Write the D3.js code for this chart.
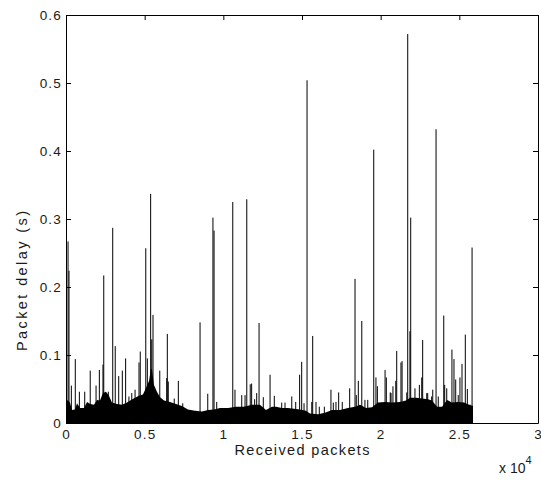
<!DOCTYPE html>
<html>
<head>
<meta charset="utf-8">
<script src="https://cdn.jsdelivr.net/npm/d3@7"></script>
<style>
  body { margin: 0; background: #fff; }
  text { font-family: "Liberation Sans", Arial, sans-serif; fill: #1a1a1a; }
</style>
</head>
<body>
<script>
// packet index / delay (s)
const spikePackets = [130, 190, 340, 590, 850, 1190, 1540, 1910, 2120, 2350, 2400, 2690, 2970, 3130, 3350, 3580, 3790, 4000,
  4180, 4390, 4640, 4720, 5070, 5170, 5380, 5450, 5530, 5960, 6400, 6440, 6500, 6880, 7140, 7420, 8520, 9010, 9340, 9410,
  9580, 10600, 10740, 11170, 11380, 11490, 11710, 11800, 11990, 12120, 12270, 12540, 12970, 13240, 13710, 13920, 14350,
  14600, 14850, 14980, 15130, 15320, 15620, 15680, 15890, 16100, 16420, 16840, 16990, 17160, 17330, 17560, 18030, 18370,
  18450, 18580, 18800, 19000, 19180, 19560, 19700, 19790, 20280, 20360, 20610, 20660, 20780, 20960, 21020, 21290, 21360,
  21660, 21720, 21860, 21910, 22180, 22460, 22610, 22670, 22930, 22990, 23240, 23310, 23520, 23660, 24010, 24070, 24200,
  24530, 24660, 24770, 24930, 25040, 25170, 25380, 25510, 25680, 25810];
const spikeDelays = [0.267, 0.224, 0.055, 0.094, 0.046, 0.046, 0.077, 0.055, 0.078, 0.086, 0.217, 0.046, 0.287, 0.113, 0.069, 0.077, 0.095, 0.039,
  0.044, 0.049, 0.089, 0.105, 0.257, 0.095, 0.337, 0.123, 0.159, 0.077, 0.066, 0.131, 0.061, 0.036, 0.062, 0.029, 0.148, 0.043, 0.302, 0.283,
  0.031, 0.325, 0.049, 0.041, 0.041, 0.329, 0.057, 0.058, 0.035, 0.044, 0.147, 0.038, 0.071, 0.040, 0.030, 0.030, 0.039,
  0.031, 0.071, 0.090, 0.029, 0.504, 0.031, 0.128, 0.031, 0.024, 0.024, 0.049, 0.030, 0.031, 0.045, 0.031, 0.051, 0.212,
  0.041, 0.062, 0.150, 0.034, 0.034, 0.402, 0.067, 0.054, 0.078, 0.067, 0.045, 0.044, 0.054, 0.062, 0.106, 0.089, 0.091,
  0.045, 0.572, 0.135, 0.302, 0.051, 0.056, 0.067, 0.122, 0.044, 0.044, 0.039, 0.049, 0.432, 0.039, 0.158, 0.056, 0.051,
  0.108, 0.094, 0.064, 0.041, 0.067, 0.087, 0.130, 0.050, 0.027, 0.258];

// top of the dense black floor
const floorPackets = [0, 130, 250, 380, 570, 700, 890, 1140, 1340, 1530, 1780, 1970, 2160, 2350, 2540, 2730, 2920, 3240,
  3560, 3880, 4130, 4390, 4640, 4890, 5090, 5280, 5400, 5470, 5590, 5780, 5980, 6230, 6610, 6990, 7370, 7750, 8200, 8640,
  9030, 9410, 9790, 10300, 10810, 11310, 11820, 12330, 12710, 13090, 13350, 13730, 14110, 14490, 14870, 15250, 15510,
  16020, 16460, 16910, 17420, 17920, 18370, 18690, 19070, 19450, 19830, 20280, 20720, 21230, 21610, 21870, 22250, 22630,
  23010, 23260, 23580, 23900, 24220, 24530, 24920, 25300, 25620, 25870];
const floorDelays = [0.034, 0.033, 0.030, 0.019, 0.020, 0.029, 0.022, 0.022, 0.031, 0.028, 0.027, 0.034, 0.033, 0.044, 0.046, 0.040, 0.030, 0.028,
  0.027, 0.030, 0.034, 0.037, 0.040, 0.042, 0.052, 0.062, 0.080, 0.078, 0.056, 0.046, 0.038, 0.033, 0.031, 0.028, 0.025, 0.020, 0.018, 0.017,
  0.019, 0.020, 0.022, 0.022, 0.024, 0.024, 0.027, 0.027, 0.019, 0.024, 0.024, 0.022, 0.022, 0.021, 0.020, 0.018, 0.014,
  0.013, 0.015, 0.019, 0.019, 0.022, 0.024, 0.027, 0.022, 0.023, 0.030, 0.031, 0.030, 0.031, 0.033, 0.037, 0.037, 0.036,
  0.035, 0.033, 0.024, 0.024, 0.034, 0.030, 0.031, 0.030, 0.027, 0.025];

const xTicks = [0, 5000, 10000, 15000, 20000, 25000, 30000];
const xTickLabels = ["0", "0.5", "1", "1.5", "2", "2.5", "3"];
const yTicks = [0, 0.1, 0.2, 0.3, 0.4, 0.5, 0.6];
const yTickLabels = ["0", "0.1", "0.2", "0.3", "0.4", "0.5", "0.6"];

const width = 541, height = 480;
const margin = {top: 15, left: 66, right: 3, bottom: 57};

const svg = d3.select("body").append("svg")
  .attr("width", width)
  .attr("height", height);

const x = d3.scaleLinear().domain([0, 30000]).range([margin.left, width - margin.right]);
const y = d3.scaleLinear().domain([0, 0.6]).range([height - margin.bottom, margin.top]);

const floor = floorPackets.map((p, i) => ({p: p, v: floorDelays[i]}));
const spikes = spikePackets.map((p, i) => ({p: p, v: spikeDelays[i]}));

const area = d3.area()
  .x(d => x(d.p))
  .y0(y(0))
  .y1(d => y(d.v));

svg.append("path")
  .datum(floor)
  .attr("d", area)
  .attr("fill", "#000");

svg.append("g")
  .selectAll("line")
  .data(spikes)
  .enter()
  .append("line")
  .attr("x1", d => x(d.p))
  .attr("x2", d => x(d.p))
  .attr("y1", y(0))
  .attr("y2", d => y(d.v))
  .attr("stroke", "#000")
  .attr("stroke-width", 1);

// axes, ticks pointing inward like matlab
const styleAxis = g => {
  g.select(".domain").attr("stroke", "#000");
  g.selectAll(".tick line").attr("stroke", "#000");
  g.selectAll(".tick text")
    .attr("fill", "#1a1a1a")
    .style("font-size", "13.5px")
    .style("letter-spacing", "1.2px");
};

svg.append("g")
  .attr("transform", `translate(0,${y(0)})`)
  .call(d3.axisBottom(x).tickValues(xTicks).tickFormat((d, i) => xTickLabels[i])
    .tickSizeInner(-5).tickSizeOuter(0).tickPadding(6))
  .call(styleAxis);

svg.append("g")
  .attr("transform", `translate(0,${y(0.6)})`)
  .call(d3.axisTop(x).tickValues(xTicks).tickFormat("").tickSizeInner(-5).tickSizeOuter(0))
  .call(styleAxis);

svg.append("g")
  .attr("transform", `translate(${x(0)},0)`)
  .call(d3.axisLeft(y).tickValues(yTicks).tickFormat((d, i) => yTickLabels[i])
    .tickSizeInner(-5).tickSizeOuter(0).tickPadding(4))
  .call(styleAxis);

svg.append("g")
  .attr("transform", `translate(${x(30000)},0)`)
  .call(d3.axisRight(y).tickValues(yTicks).tickFormat("").tickSizeInner(-5).tickSizeOuter(0))
  .call(styleAxis);

svg.selectAll(".domain").attr("fill", "none");

// labels
svg.append("text")
  .attr("x", 302)
  .attr("y", 455)
  .attr("text-anchor", "middle")
  .attr("textLength", 135)
  .attr("lengthAdjust", "spacing")
  .style("font-size", "14.5px")
  .text("Received packets");

svg.append("text")
  .attr("transform", "translate(27,281) rotate(-90)")
  .attr("text-anchor", "middle")
  .attr("textLength", 140)
  .attr("lengthAdjust", "spacing")
  .style("font-size", "14.5px")
  .text("Packet delay (s)");

const mult = svg.append("text")
  .attr("x", 499)
  .attr("y", 473)
  .style("font-size", "14px");
mult.append("tspan").text("x 10");
mult.append("tspan").attr("dy", -9).style("font-size", "11px").text("4");
</script>
</body>
</html>
